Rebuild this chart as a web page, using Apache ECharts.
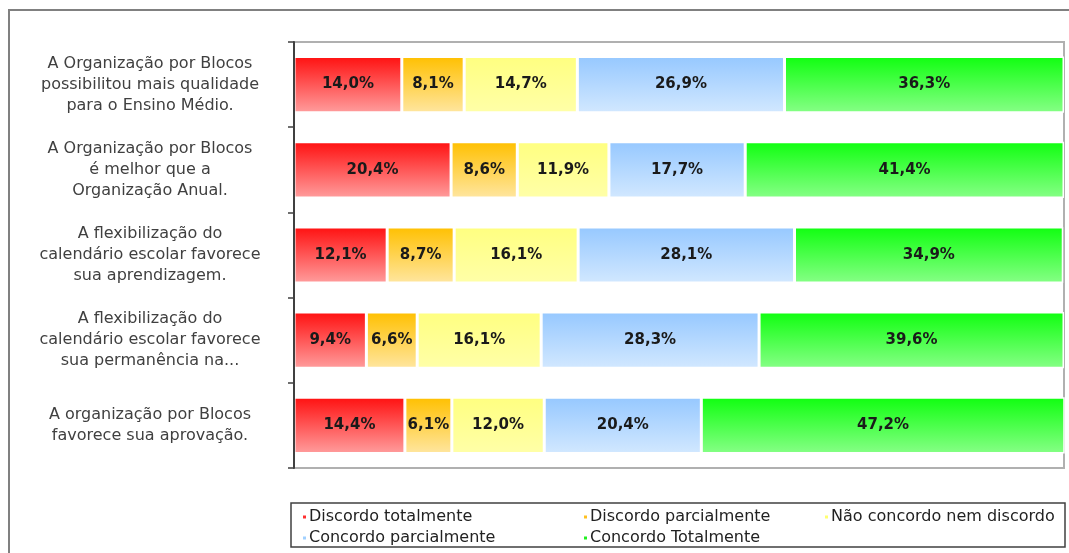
<!DOCTYPE html>
<html>
<head>
<meta charset="utf-8">
<script src="https://cdn.jsdelivr.net/npm/echarts@6/dist/echarts.min.js"></script>
<style>
  html, body { margin: 0; padding: 0; background: #fff; }
  #chart { width: 1069px; height: 553px; }
</style>
</head>
<body>
<div id="chart"></div>
<script>
// categories (top to bottom)
const categories = [
    'A Organização por Blocos\npossibilitou mais qualidade\npara o Ensino Médio.',
    'A Organização por Blocos\né melhor que a\nOrganização Anual.',
    'A flexibilização do\ncalendário escolar favorece\nsua aprendizagem.',
    'A flexibilização do\ncalendário escolar favorece\nsua permanência na...',
    'A organização por Blocos\nfavorece sua aprovação.'
]

const seriesNames = ['Discordo totalmente', 'Discordo parcialmente', 'Não concordo nem discordo', 'Concordo parcialmente', 'Concordo Totalmente']

const discordoTotal = [14.0, 20.4, 12.1, 9.4, 14.4]
const discordoParcial = [8.1, 8.6, 8.7, 6.6, 6.1]
const neutro = [14.7, 11.9, 16.1, 16.1, 12.0]
const concordoParcial = [26.9, 17.7, 28.1, 28.3, 20.4]
const concordoTotal = [36.3, 41.4, 34.9, 39.6, 47.2]

// gradient colours top -> bottom, plus solid legend colour
const colors = [
    ['#ff1010', '#ff9d9d', '#ff3030'],
    ['#ffc000', '#ffe6a0', '#ffc020'],
    ['#ffff80', '#ffffa8', '#ffff70'],
    ['#96c8ff', '#d2e8ff', '#a0d0ff'],
    ['#10ff10', '#86ff86', '#20f020']
]

const FONT = '"DejaVu Sans", Verdana, sans-serif'

function grad (c) {
    return new echarts.graphic.LinearGradient(0, 0, 0, 1, [
        { offset: 0, color: c[0] },
        { offset: 1, color: c[1] }
    ])
}

const allData = [discordoTotal, discordoParcial, neutro, concordoParcial, concordoTotal]

let series = allData.map((d, i) => ({
    name: seriesNames[i],
    type: 'bar',
    stack: 'total',
    barWidth: '66%',
    data: d,
    itemStyle: { color: grad(colors[i]), borderColor: '#fff', borderWidth: 1.5 },
    label: {
        show: true,
        position: 'inside',
        color: '#1a1a1a',
        fontFamily: FONT,
        fontWeight: 'bold',
        fontSize: 15,
        formatter: p => p.value.toFixed(1).replace('.', ',') + '%'
    }
}))

function legendCol (left, idx) {
    return {
        orient: 'vertical',
        left: left,
        top: 503,
        itemWidth: 5,
        itemHeight: 5,
        itemGap: 3,
        icon: 'rect',
        selectedMode: false,
        data: idx.map(i => ({ name: seriesNames[i], itemStyle: { color: colors[i][2] } })),
        textStyle: { fontFamily: FONT, fontSize: 16, color: '#222', padding: [0, 0, 0, -3], lineHeight: 18 }
    }
}

let option = {
    animation: false,
    grid: {
        left: 294,
        right: 5,
        top: 42,
        bottom: 85,
        show: true,
        borderColor: '#b0b0b0',
        borderWidth: 2
    },
    xAxis: {
        type: 'value',
        min: 0,
        max: 100,
        show: false
    },
    yAxis: {
        type: 'category',
        inverse: true,
        z: 5,
        data: categories,
        axisLine: { show: true, lineStyle: { color: '#404040', width: 2 } },
        axisTick: { show: true, length: 6, lineStyle: { color: '#404040', width: 1.5 } },
        axisLabel: {
            align: 'center',
            margin: 144,
            color: '#404040',
            fontFamily: FONT,
            fontSize: 16,
            lineHeight: 21
        }
    },
    legend: [
        legendCol(296, [0, 3]),
        legendCol(577, [1, 4]),
        legendCol(818, [2])
    ],
    graphic: [
        { type: 'polyline', shape: { points: [[9, 553], [9, 10], [1069, 10]] }, style: { stroke: '#808080', lineWidth: 2, fill: null } },
        { type: 'rect', shape: { x: 291, y: 503, width: 774, height: 44 }, style: { stroke: '#404040', lineWidth: 1.5, fill: null } }
    ],
    series: series
}

let chart = echarts.init(document.getElementById('chart'))
chart.setOption(option)
</script>
</body>
</html>
